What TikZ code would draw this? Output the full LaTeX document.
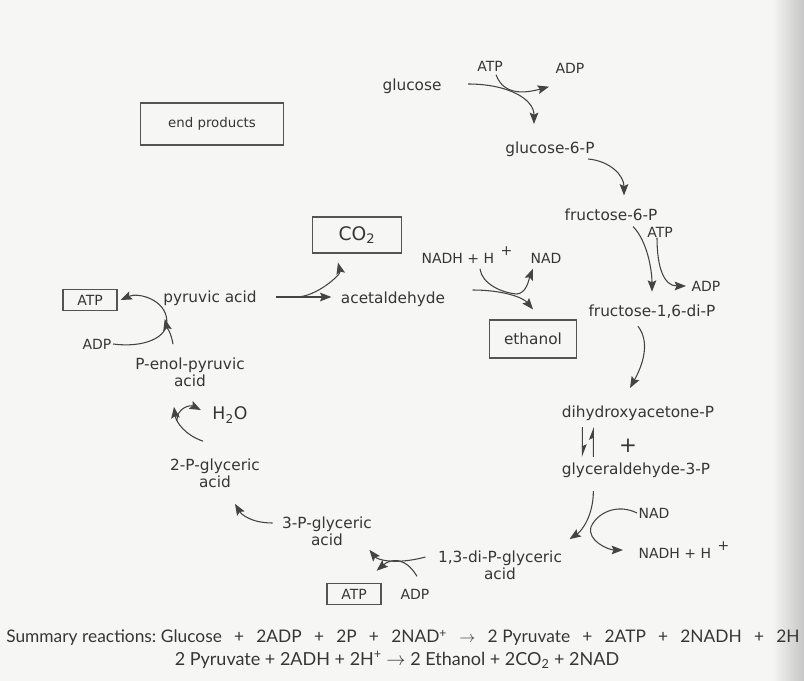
\documentclass[tikz,border=0pt]{standalone}
\usepackage{fontspec}
\setmainfont{DejaVu Sans}
\newfontfamily\sumfont{Lato}
\usepackage{tikz}
\usetikzlibrary{arrows.meta, calc}

\definecolor{ink}{HTML}{363636}
\definecolor{wire}{HTML}{444444}
\definecolor{paper}{HTML}{F6F6F4}

\begin{document}
\begin{tikzpicture}[x=0.75pt, y=-0.75pt, >={Stealth[length=8.5pt,width=6.5pt,inset=1.5pt]},
    met/.style={text=ink, font=\fontsize{11.5}{12.5}\selectfont, align=center, inner sep=1pt},
    cof/.style={text=ink, font=\fontsize{10.5}{12}\selectfont, inner sep=1pt},
    prod/.style={draw=ink!85, line width=0.9pt, text=ink, font=\fontsize{10.5}{12}\selectfont,
        minimum width=40.5pt, minimum height=16pt, inner sep=1pt},
    rxn/.style={->, draw=wire, line width=0.8pt},
    eqm/.style={draw=wire, line width=0.8pt, -{Stealth[left,length=8.5pt,width=6.5pt,inset=1.5pt]}}]
    \useasboundingbox (0,0) rectangle (804,681);
    \fill[paper] (0,0) rectangle (804,681);
    \shade[left color=paper, right color=gray!45] (772,0) rectangle (804,681);

    % glycolysis, right hand column
    \node[met] (glucose) at (412,86) {glucose};
    \node[cof] (atpa) at (490,66) {ATP};
    \node[cof] (adpa) at (570,68) {ADP};
    \node[met] (g6p) at (550,149) {glucose-6-P};
    \node[met] (f6p) at (611,215) {fructose-6-P};
    \node[cof] (atpb) at (660,232) {ATP};
    \node[cof] (adpb) at (706,286) {ADP};
    \node[met] (fbp) at (652,312) {fructose-1,6-di-P};
    \node[met] (dhap) at (638,413) {dihydroxyacetone-P};
    \node[met, font=\fontsize{16}{16}\selectfont] (plus) at (628,446) {+};
    \node[met] (gap) at (636,470) {glyceraldehyde-3-P};
    \node[cof] (nada) at (654,513) {NAD};
    \node[cof] (nadha) at (684,550) {NADH + H\hspace{5pt}\raisebox{6pt}{+}};

    % lower row and left column
    \node[met] (bpg) at (500,565) {1,3-di-P-glyceric\\acid};
    \node[prod] (atpc) at (354,594) {ATP};
    \node[cof] (adpc) at (415,594) {ADP};
    \node[met] (pg3) at (327,531) {3-P-glyceric\\acid};
    \node[met] (pg2) at (215,473) {2-P-glyceric\\acid};
    \node[cof, font=\fontsize{13}{14}\selectfont] (water) at (230,415) {H\textsubscript{2}O};
    \node[met] (pep) at (190,372) {P-enol-pyruvic\\acid};
    \node[cof] (adpd) at (97,344) {ADP};
    \node[prod] (atpd) at (90,300) {ATP};
    \node[met] (pyr) at (210,298) {pyruvic acid};

    % fermentation
    \node[prod, minimum width=67pt, minimum height=27pt, font=\fontsize{14}{15}\selectfont] (co2) at (357,235) {CO\textsubscript{2}};
    \node[met] (acet) at (393,299) {acetaldehyde};
    \node[cof] (nadhb) at (467,255) {NADH + H\hspace{5pt}\raisebox{6pt}{+}};
    \node[cof] (nadb) at (546,258) {NAD};
    \node[prod, minimum width=65pt, minimum height=28.5pt, font=\fontsize{11.5}{12}\selectfont] (etoh) at (533,339) {ethanol};
    \node[prod, minimum width=107pt, minimum height=31.5pt, font=\fontsize{10}{12}\selectfont] (endp) at (212,124) {end products};

    % glucose to fructose-1,6-di-P
    \draw[rxn] ($(glucose.east)+(25,-2)$) .. controls +(40,0) and +(0,-25) .. ($(g6p.north)+(-16,-16)$);
    \draw[rxn] ($(atpa.south)+(6,2)$) .. controls +(8,22) and +(-22,6) .. ($(adpa.south west)+(-5,12)$);
    \draw[rxn] ($(g6p.east)+(-8,10)$) .. controls +(22,2) and +(0,-20) .. ($(f6p.north)+(13,-12)$);
    \draw[rxn] ($(f6p.south)+(22,4)$) .. controls +(14,14) and +(0,-22) .. ($(fbp.north)+(0,-12)$);
    \draw[rxn] ($(atpb.south)+(-3,-1)$) .. controls +(0,30) and +(-22,0) .. ($(adpb.west)+(-4,0)$);
    \draw[rxn] ($(fbp.south)+(-14,6)$) .. controls +(14,18) and +(10,-18) .. ($(dhap.north)+(-8,-16)$);

    % triose phosphates
    \draw[eqm] ($(dhap.south west)+(22,5)$) -- ($(gap.north west)+(22,-4)$);
    \draw[eqm] ($(gap.north west)+(33,-4)$) -- ($(dhap.south west)+(33,5)$);
    \draw[rxn] ($(gap.south west)+(33,12)$) .. controls +(0,25) and +(12,-8) .. ($(bpg.north east)+(6,-10)$);
    \draw[rxn] (nada.west) .. controls +(-20,-10) and +(6,-14) .. ++(-46,14) .. controls +(-4,14) and +(-14,0) .. ($(nadha.west)+(-14,0)$);

    % back along the bottom and up the left
    \draw[rxn] ($(bpg.west)+(-11,-8)$) .. controls +(-30,8) and +(8,10) .. ($(pg3.south east)+(-4,3)$);
    \draw[rxn] ($(adpc.north)+(2,-11)$) .. controls +(-12,-20) and +(14,-12) .. ($(atpc.north east)+(-5,-12)$);
    \draw[rxn] ($(pg3.west)+(-8,-8)$) .. controls +(-22,0) and +(6,10) .. ($(pg2.south)+(20,15)$);
    \draw[rxn] ($(pg2.north)+(-12,-16)$) .. controls +(-18,-6) and +(2,15) .. ($(pep.south)+(-16,19)$);
    \draw[rxn] ($(water.west)+(-34,6)$) .. controls +(0,-14) and +(-10,-5) .. ($(water.west)+(-10,-5)$);
    \draw[rxn] ($(pep.north)+(-17,-12)$) .. controls +(-2,-12) and +(2,8) .. ($(pyr.south west)+(3,12)$);
    \draw[rxn] (adpd.east) .. controls +(30,4) and +(2,18) .. ($(pyr.west)+(5,22)$) .. controls +(-1,-20) and +(18,-8) .. ($(atpd.east)+(3,0)$);

    % pyruvic acid to ethanol
    \draw[rxn] ($(pyr.east)+(18,-1)$) -- ($(acet.west)+(-8,-2)$);
    \draw[rxn] ($(pyr.east)+(38,-1)$) .. controls +(20,0) and +(3,12) .. ($(co2.south)+(-19,9)$);
    \draw[rxn] ($(acet.east)+(26,-9)$) .. controls +(30,0) and +(-10,-12) .. ($(etoh.north)+(0,-10)$);
    \draw[rxn] ($(nadhb.south)+(13,4)$) .. controls +(2,15) and +(-15,-1) .. ++(37,25) .. controls +(10,-1) and +(-4,10) .. ($(nadb.south west)+(4,4)$);

    % summary
    \node[anchor=west, text=ink, inner sep=0pt, font=\sumfont\fontsize{13}{15}\selectfont] (sumA) at (6,638)
        {\makebox[595pt][s]{Summary\hspace{3.5pt}reactions:\hspace{3.5pt}Glucose + 2ADP + 2P + 2NAD\textsuperscript{+} $\rightarrow$ 2\hspace{3.5pt}Pyruvate + 2ATP + 2NADH + 2H}};
    \node[text=ink, inner sep=0pt, font=\sumfont\fontsize{13.5}{15}\selectfont] (sumB) at (397,660)
        {2 Pyruvate + 2ADH + 2H\textsuperscript{+} $\rightarrow$ 2 Ethanol + 2CO\textsubscript{2} + 2NAD};
\end{tikzpicture}
\end{document}
